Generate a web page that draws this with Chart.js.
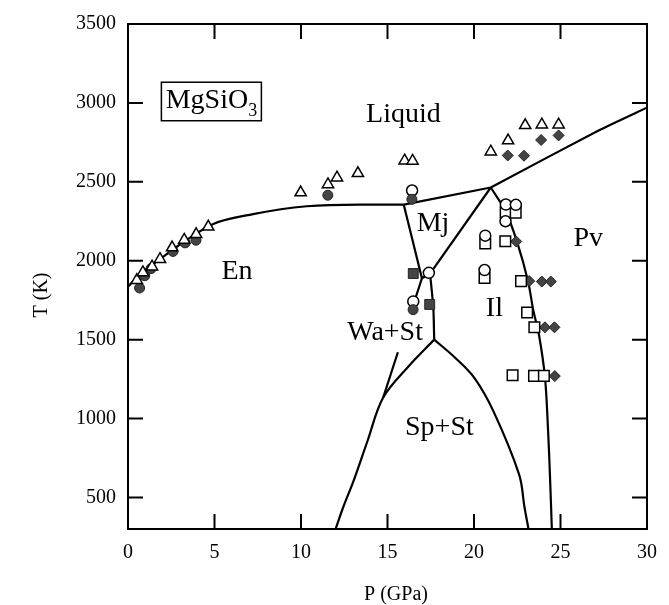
<!DOCTYPE html>
<html>
<head>
<meta charset="utf-8">
<script src="https://cdn.jsdelivr.net/npm/chart.js@4/dist/chart.umd.min.js"></script>
<style>
  html, body { margin: 0; padding: 0; background: #fff; }
</style>
</head>
<body>
<canvas id="chart" width="669" height="605"></canvas>
<script>
/* axis ticks */
const pTicks = [0, 5, 10, 15, 20, 25, 30];
const tTicks = [500, 1000, 1500, 2000, 2500, 3000, 3500];

/* phase boundaries, P (GPa) and T (K) */
const enLiqP = [0, 0.6, 1.85, 3.3, 4.93, 7.23, 10.33, 13.37, 15.94];
const enLiqT = [1835, 1905, 2010, 2125, 2233, 2295, 2345, 2356, 2355];
const mjLiqP = [15.94, 20.97];
const mjLiqT = [2355, 2464];
const pvLiqP = [20.97, 27.2, 30];
const pvLiqT = [2464, 2825, 2970];
const enMjP = [15.94, 16.99, 17.46];
const enMjT = [2355, 1889, 1918];
const mjIlP = [20.97, 17.46];
const mjIlT = [2464, 1918];
const enWaP = [16.99, 16.52, 16.1, 15.6, 14.75];
const enWaT = [1889, 1730, null, 1420, 1133];
const waIlP = [17.46, 17.65, 17.7];
const waIlT = [1918, 1700, 1500];
const spLeftP = [17.7, 16.21, 14.75, 13.84, 13.05, 12.45, 12.0];
const spLeftT = [1500, 1330, 1133, 856, 608, 441, 300];
const spRightP = [17.7, 18.91, 20.03, 21.14, 22.61, 22.92, 23.15];
const spRightT = [1500, 1385, 1256, 1042, 644, 438, 300];
const ilPvP = [20.97, 21.83, 22.48, 23.12, 23.43, 23.75, 24.1, 24.27, 24.39, 24.5];
const ilPvT = [2464, 2312, 2123, 1872, 1684, 1534, 1264, 952, 640, 300];

/* experiments */
const triP = [0.51, 0.86, 1.39, 1.85, 2.55, 3.25, 3.94, 4.64, 9.98, 11.56, 12.08, 13.29, 15.99, 16.45, 20.97, 21.97, 22.96, 23.92, 24.89];
const triT = [1877, 1926, 1962, 2010, 2083, 2132, 2167, 2215, 2432, 2483, 2526, 2554, 2634, 2632, 2691, 2761, 2858, 2862, 2862];
const dotP = [0.67, 0.97, 1.33, 2.6, 3.3, 3.93, 11.55, 16.41, 16.48];
const dotT = [1827, 1905, 1950, 2059, 2113, 2130, 2415, 2389, 1690];
const circP = [16.42, 17.39, 16.49, 21.84, 22.42, 21.82, 20.65, 20.61];
const circT = [2445, 1923, 1742, 2356, 2354, 2250, 2159, 1941];
const sqP = [21.83, 22.41, 20.65, 20.61, 21.81, 22.72, 23.07, 23.49, 22.23, 23.47, 24.04];
const sqT = [2306, 2305, 2109, 1891, 2123, 1871, 1672, 1578, 1274, 1270, 1270];
const fsqP = [16.49, 17.44];
const fsqT = [1919, 1723];
const diaP = [21.95, 22.89, 23.88, 24.89, 22.44, 23.19, 23.92, 24.44, 24.1, 24.65, 24.67];
const diaT = [2667, 2665, 2765, 2794, 2122, 1871, 1868, 1868, 1578, 1578, 1269];

/* field names */
const fieldNames = ["Liquid", "En", "Mj", "Pv", "Il", "Wa+St", "Sp+St"];
const fieldP = [15.92, 6.3, 17.63, 26.6, 21.18, 14.86, 18.0];
const fieldT = [2881, 1887, 2187, 2094, 1650, 1500, 894];

const serif = "'Liberation Serif', 'Times New Roman', serif";

function pts(P, T) {
  return P.map((p, i) => ({ x: p, y: T[i] }));
}

function boundary(P, T, tension, mono) {
  return {
    data: pts(P, T), showLine: true, pointRadius: 0, borderColor: "#000",
    borderWidth: 2.2, tension: tension, order: 2,
    cubicInterpolationMode: mono ? "monotone" : "default"
  };
}

function marks(P, T, style, r, fill) {
  return {
    data: pts(P, T), pointStyle: style, pointRadius: r,
    backgroundColor: fill ? "#444" : "#fff",
    borderColor: fill ? "#222" : "#000", borderWidth: fill ? 1 : 1.5, order: 1
  };
}

/* frame with inward ticks, titles and field labels */
const decor = {
  id: "decor",
  afterDatasetsDraw(chart) {
    const { ctx, chartArea: a, scales: { x, y } } = chart;
    ctx.save();
    ctx.strokeStyle = "#000";
    ctx.lineWidth = 2;
    ctx.strokeRect(a.left, a.top, a.right - a.left, a.bottom - a.top);
    ctx.beginPath();
    pTicks.slice(1, -1).forEach(v => {
      const px = x.getPixelForValue(v);
      ctx.moveTo(px, a.bottom); ctx.lineTo(px, a.bottom - 15);
      ctx.moveTo(px, a.top); ctx.lineTo(px, a.top + 15);
    });
    tTicks.slice(0, -1).forEach(v => {
      const py = y.getPixelForValue(v);
      ctx.moveTo(a.left, py); ctx.lineTo(a.left + 15, py);
      ctx.moveTo(a.right, py); ctx.lineTo(a.right - 15, py);
    });
    ctx.stroke();

    ctx.fillStyle = "#000";
    ctx.font = "28px " + serif;
    ctx.textAlign = "center";
    ctx.textBaseline = "alphabetic";
    fieldNames.forEach((n, i) => {
      ctx.fillText(n, x.getPixelForValue(fieldP[i]), y.getPixelForValue(fieldT[i]));
    });

    // MgSiO3 box
    const bx = x.getPixelForValue(1.93), by = y.getPixelForValue(3131);
    const bw = x.getPixelForValue(7.71) - bx, bh = y.getPixelForValue(2887) - by;
    ctx.lineWidth = 1.5;
    ctx.strokeRect(bx, by, bw, bh);
    ctx.textAlign = "left";
    const tx = x.getPixelForValue(2.18), ty = y.getPixelForValue(2969);
    ctx.fillText("MgSiO", tx, ty);
    const w = ctx.measureText("MgSiO").width;
    ctx.font = "18px " + serif;
    ctx.fillText("3", tx + w, ty + 8);

    // axis titles
    ctx.font = "20px " + serif;
    ctx.textAlign = "center";
    ctx.textBaseline = "middle";
    ctx.fillText("P (GPa)", 396, 595);
    ctx.translate(42, 295);
    ctx.rotate(-Math.PI / 2);
    ctx.fillText("T (K)", 0, 0);
    ctx.restore();
  }
};

const ctx = document.getElementById("chart").getContext("2d");
new Chart(ctx, {
  type: "scatter",
  data: {
    datasets: [
      marks(triP, triT, "triangle", 6.5, false),
      marks(dotP, dotT, "circle", 5, true),
      marks(circP, circT, "circle", 5.5, false),
      marks(sqP, sqT, "rect", 7.5, false),
      marks(fsqP, fsqT, "rect", 7, true),
      marks(diaP, diaT, "rectRot", 5.5, true),
      boundary(enLiqP, enLiqT, 0.4, true),
      boundary(mjLiqP, mjLiqT, 0),
      boundary(pvLiqP, pvLiqT, 0.2),
      boundary(enMjP, enMjT, 0),
      boundary(mjIlP, mjIlT, 0),
      boundary(enWaP, enWaT, 0),
      boundary(waIlP, waIlT, 0.2),
      boundary(spLeftP, spLeftT, 0.35),
      boundary(spRightP, spRightT, 0.35),
      boundary(ilPvP, ilPvT, 0.35)
    ]
  },
  options: {
    responsive: false,
    animation: false,
    layout: { padding: { top: 17, right: 17, left: 0, bottom: 0 } },
    plugins: { legend: { display: false }, tooltip: { enabled: false } },
    scales: {
      x: {
        type: "linear", min: 0, max: 30,
        afterBuildTicks: s => { s.ticks = pTicks.map(v => ({ value: v })); },
        afterFit: s => { s.height = 76; },
        grid: { display: false, drawTicks: false },
        border: { display: false },
        ticks: { padding: 12, color: "#000", maxRotation: 0, callback: v => String(v), font: { family: serif, size: 20 } }
      },
      y: {
        type: "linear", min: 300, max: 3500,
        afterBuildTicks: s => { s.ticks = tTicks.map(v => ({ value: v })); },
        afterFit: s => { s.width = 128; },
        grid: { display: false, drawTicks: false },
        border: { display: false },
        ticks: { padding: 12, color: "#000", callback: v => String(v), font: { family: serif, size: 20 } }
      }
    }
  },
  plugins: [decor]
});
</script>
</body>
</html>
